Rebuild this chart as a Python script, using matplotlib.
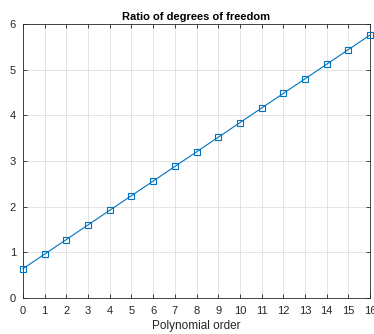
import matplotlib
matplotlib.use("Agg")
import matplotlib.pyplot as plt

# データ
poly_order = [0, 1, 2, 3, 4, 5, 6, 7, 8, 9, 10, 11, 12, 13, 14, 15, 16]
dof_ratio = [0.64, 0.96, 1.28, 1.60, 1.92, 2.24, 2.56, 2.88, 3.20,
             3.52, 3.84, 4.16, 4.48, 4.80, 5.12, 5.44, 5.76]
x_ticks = list(range(0, 17))
y_ticks = [0, 1, 2, 3, 4, 5, 6]

plt.rcParams["font.family"] = ["Liberation Sans", "DejaVu Sans"]

fig = plt.figure(figsize=(3.74, 3.34), dpi=100)
ax = fig.add_axes([0.0615, 0.108, 0.928, 0.820])

ax.plot(poly_order, dof_ratio, color="#0072BD", linewidth=0.8,
        marker="s", markersize=4.5, markerfacecolor="none",
        markeredgecolor="#0072BD", markeredgewidth=0.8, clip_on=False, zorder=3)

ax.set_xlim(0, 16)
ax.set_ylim(0, 6)
ax.set_xticks(x_ticks)
ax.set_yticks(y_ticks)
ax.tick_params(direction="in", length=3, width=0.6, labelsize=8,
               colors="#262626", top=True, right=True)
ax.tick_params(axis="x", pad=6)
ax.tick_params(axis="y", pad=5)
ax.grid(True, color="#dfdfdf", linewidth=0.6)
ax.set_axisbelow(True)
for s in ax.spines.values():
    s.set_color("#262626")
    s.set_linewidth(0.6)

ax.set_xlabel("Polynomial order", fontsize=8.5, color="#262626", labelpad=3)
ax.set_title("Ratio of degrees of freedom", fontsize=8, fontweight="bold", pad=3)

fig.savefig("out.png", dpi=100)
